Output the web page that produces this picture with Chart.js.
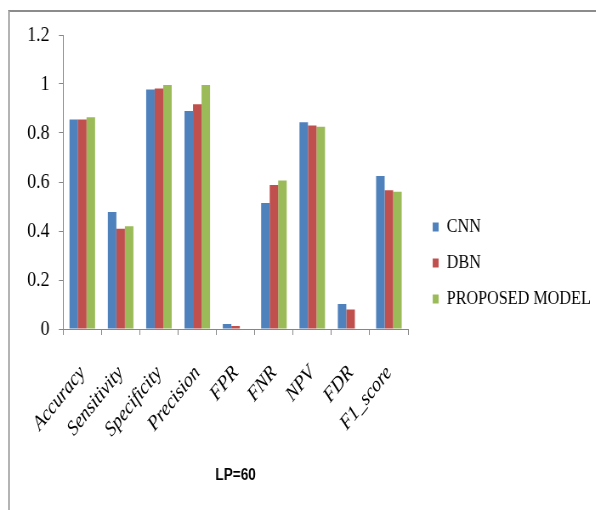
<!DOCTYPE html>
<html>
<head>
<meta charset="utf-8">
<script src="https://cdn.jsdelivr.net/npm/chart.js@4/dist/chart.umd.min.js"></script>
<style>
  html, body { margin: 0; padding: 0; background: #fff; width: 596px; height: 510px; overflow: hidden; }
  .frame {
    position: absolute; left: 8px; top: 10px; width: 600px; height: 510px;
    border-top: 2px solid #8c8c8c; border-left: 2px solid #b4b4b4;
  }
  /* the chart is laid out wide and then narrowed, giving the condensed lettering */
  #chart { position: absolute; left: 0; top: 0; transform: scaleX(0.85); transform-origin: 0 0; }
</style>
</head>
<body>
<div class="frame"></div>
<canvas id="chart" width="705" height="510"></canvas>
<script>
const categories = ['Accuracy', 'Sensitivity', 'Specificity', 'Precision', 'FPR', 'FNR', 'NPV', 'FDR', 'F1_score'];
const cnnValues = [0.855, 0.478, 0.978, 0.890, 0.020, 0.514, 0.844, 0.102, 0.624];
const dbnValues = [0.855, 0.409, 0.982, 0.917, 0.012, 0.588, 0.831, 0.080, 0.566];
const proposedValues = [0.864, 0.419, 0.996, 0.996, 0, 0.606, 0.826, 0, 0.560];
const yTicks = [0, 0.2, 0.4, 0.6, 0.8, 1, 1.2];
const seriesNames = ['CNN', 'DBN', 'PROPOSED MODEL'];
const axisTitle = 'LP=60';

const serif = "'Liberation Serif', 'Times New Roman', serif";
const axisGray = '#868686';

new Chart(document.getElementById('chart'), {
  type: 'bar',
  data: {
    labels: categories,
    datasets: [
      { label: seriesNames[0], data: cnnValues, backgroundColor: '#4F81BD' },
      { label: seriesNames[1], data: dbnValues, backgroundColor: '#C0504D' },
      { label: seriesNames[2], data: proposedValues, backgroundColor: '#9BBB59' }
    ]
  },
  options: {
    responsive: false,
    devicePixelRatio: 1,
    animation: false,
    datasets: { bar: { barPercentage: 1, categoryPercentage: 0.667, borderWidth: 0 } },
    layout: { padding: { left: 21, top: 35, right: 0, bottom: 19 } },
    plugins: {
      tooltip: { enabled: false },
      legend: {
        position: 'right',
        maxWidth: 320,
        labels: {
          color: '#000',
          font: { family: serif, size: 19 },
          boxWidth: 7,
          boxHeight: 9,
          padding: 17
        }
      }
    },
    scales: {
      x: {
        // fixed band under the plot for the slanted names and the title;
        // rotated names may hang past the plot edge, the y axis leaves room for them
        afterFit: s => { s.paddingLeft = 0; s.paddingRight = 0; s.height = 162; },
        grid: { display: true, drawOnChartArea: false, offset: true, color: axisGray, tickLength: 6 },
        border: { color: axisGray, width: 1 },
        ticks: {
          color: '#000',
          font: { family: serif, size: 21, style: 'italic' },
          minRotation: 47, maxRotation: 47, autoSkip: false, padding: 26
        },
        title: {
          display: true, text: axisTitle, color: '#000',
          font: { family: "'Liberation Sans', Arial, sans-serif", size: 16, weight: 'bold' },
          padding: { top: 5, bottom: 6 }
        }
      },
      y: {
        min: 0, max: 1.2,
        afterBuildTicks: s => { s.ticks = yTicks.map(v => ({ value: v })); },
        grid: { display: true, drawOnChartArea: false, color: axisGray, tickLength: 5 },
        border: { color: axisGray, width: 1 },
        ticks: {
          color: '#000',
          font: { family: serif, size: 21 },
          padding: 11,
          callback: v => String(Number(v.toFixed(1)))
        }
      },
      gap: {
        type: 'linear', position: 'right', display: true,
        grid: { display: false, drawTicks: false },
        border: { display: false },
        ticks: { display: false },
        afterFit: s => { s.width = 12; }
      }
    }
  }
});
</script>
</body>
</html>
